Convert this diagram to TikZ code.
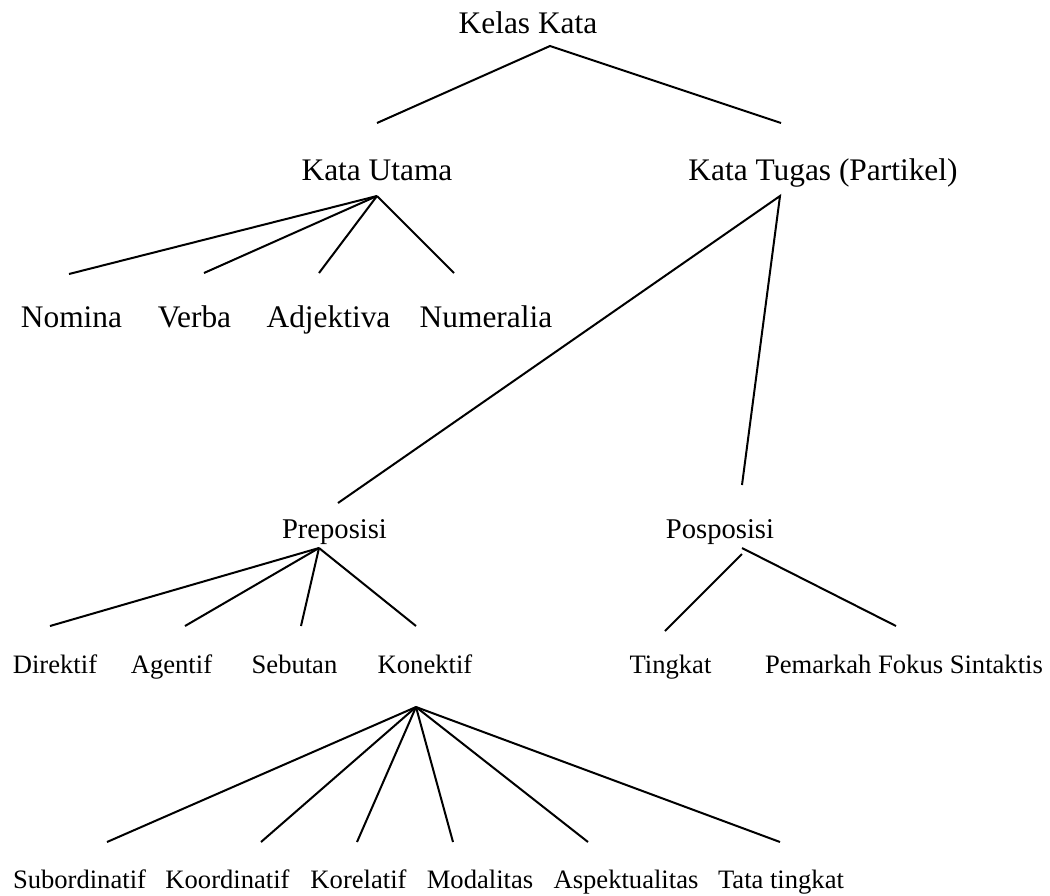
\documentclass[tikz,border=0pt]{standalone}
\usepackage{fontspec}
\setmainfont{Liberation Serif}
\begin{document}
\begin{tikzpicture}[x=0.5pt,y=-0.5pt,
  lvlA/.style={inner sep=0pt,anchor=base,font=\fontsize{15.7}{18}\selectfont},
  lvlB/.style={inner sep=0pt,anchor=base,font=\fontsize{14.3}{17}\selectfont},
  lvlC/.style={inner sep=0pt,anchor=base,font=\fontsize{13.3}{16}\selectfont},
  branch/.style={line width=1pt}]
\useasboundingbox (0,0) rectangle (1050,895);

% labels
\node[lvlA] (kelas) at (528,33) {Kelas Kata};
\node[lvlA] (utama) at (377,180) {Kata Utama};
\node[lvlA] (tugas) at (823,180) {Kata Tugas (Partikel)};
\node[lvlA] (nomina) at (71.5,327) {Nomina};
\node[lvlA] (verba) at (194.5,327) {Verba};
\node[lvlA] (adjektiva) at (328.5,327) {Adjektiva};
\node[lvlA] (numeralia) at (486,327) {Numeralia};
\node[lvlB] (prep) at (334.5,538) {Preposisi};
\node[lvlB] (posp) at (720,538) {Posposisi};
\node[lvlC] (direktif) at (55,673) {Direktif};
\node[lvlC] (agentif) at (171.5,673) {Agentif};
\node[lvlC] (sebutan) at (294.5,673) {Sebutan};
\node[lvlC] (konektif) at (425,673) {Konektif};
\node[lvlC] (tingkat) at (670.5,673) {Tingkat};
\node[lvlC] (pemarkah) at (904,673) {Pemarkah Fokus Sintaktis};
\node[lvlC] (subord) at (79.5,888) {Subordinatif};
\node[lvlC] (koord) at (227.5,888) {Koordinatif};
\node[lvlC] (korel) at (358.5,888) {Korelatif};
\node[lvlC] (modal) at (480,888) {Modalitas};
\node[lvlC] (aspek) at (626,888) {Aspektualitas};
\node[lvlC] (tata) at (781,888) {Tata tingkat};

% branch points
\coordinate (kelas-b) at (550,46);
\coordinate (utama-t) at (377,123);
\coordinate (tugas-t) at (781,123);
\coordinate (utama-b) at (377,196);
\coordinate (nomina-t) at (69,274);
\coordinate (verba-t) at (204,273);
\coordinate (adjektiva-t) at (319,273);
\coordinate (numeralia-t) at (454,273);
\coordinate (tugas-b) at (780,196);
\coordinate (prep-t) at (338,503);
\coordinate (posp-t) at (742,485);
\coordinate (prep-b) at (319,548);
\coordinate (direktif-t) at (50,626);
\coordinate (agentif-t) at (185,626);
\coordinate (sebutan-t) at (301,626);
\coordinate (konektif-t) at (416,626);
\coordinate (posp-bl) at (742,554);
\coordinate (posp-br) at (742,548);
\coordinate (tingkat-t) at (665,631);
\coordinate (pemarkah-t) at (896,626);
\coordinate (konektif-b) at (416,707);
\coordinate (subord-t) at (107,842);
\coordinate (koord-t) at (261,842);
\coordinate (korel-t) at (357,842);
\coordinate (modal-t) at (453,842);
\coordinate (aspek-t) at (588,842);
\coordinate (tata-t) at (780,842);

% branches
\draw[branch] (utama-t) -- (kelas-b) -- (tugas-t);
\foreach \c in {nomina,verba,adjektiva,numeralia}
  \draw[branch] (utama-b) -- (\c-t);
\draw[branch] (prep-t) -- (tugas-b) -- (posp-t);
\foreach \c in {direktif,agentif,sebutan,konektif}
  \draw[branch] (prep-b) -- (\c-t);
\draw[branch] (posp-bl) -- (tingkat-t);
\draw[branch] (posp-br) -- (pemarkah-t);
\foreach \c in {subord,koord,korel,modal,aspek,tata}
  \draw[branch] (konektif-b) -- (\c-t);
\end{tikzpicture}
\end{document}
